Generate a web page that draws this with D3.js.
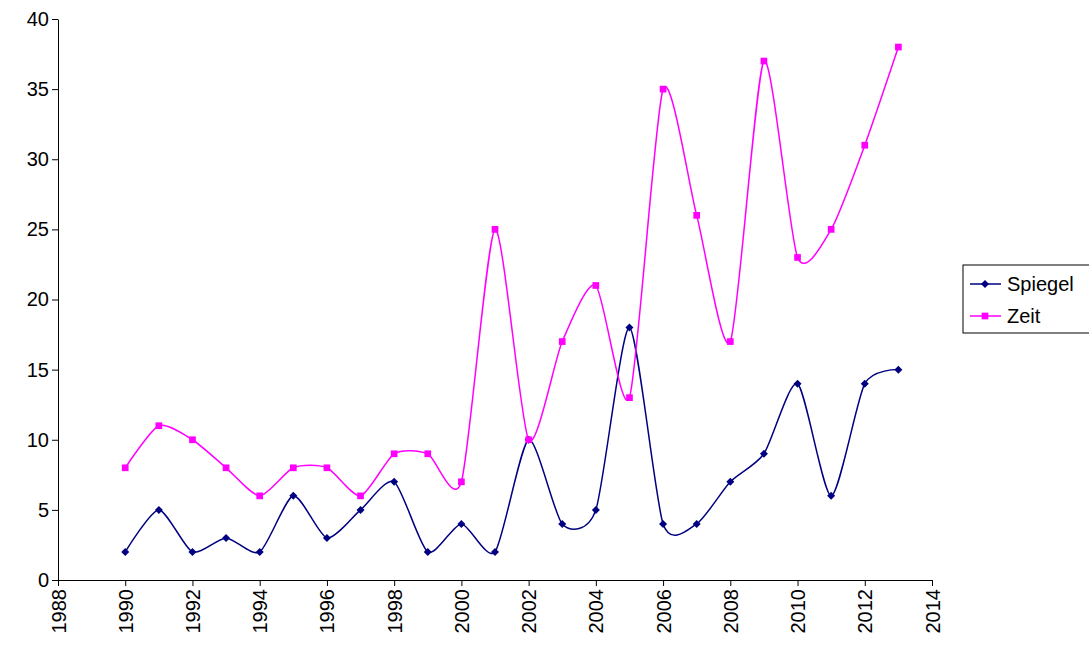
<!DOCTYPE html>
<html><head><meta charset="utf-8">
<script src="https://cdn.jsdelivr.net/npm/d3@7"></script>
<style>body{margin:0;background:#fff}text{font-family:"Liberation Sans",Arial,sans-serif}</style>
</head><body>
<script>
var years = d3.range(1990, 2014);
var spiegel = [2,5,2,3,2,6,3,5,7,2,4,2,10,4,5,18,4,4,7,9,14,6,14,15];
var zeit = [8,11,10,8,6,8,8,6,9,9,7,25,10,17,21,13,35,26,17,37,23,25,31,38];
var xTicks = d3.range(1988, 2015, 2);
var yTicks = d3.range(0, 41, 5);

var width = 1089, height = 651;
var svg = d3.select("body").append("svg").attr("width", width).attr("height", height);

var x = d3.scaleLinear().domain([1988, 2014]).range([58, 932]);
var y = d3.scaleLinear().domain([0, 40]).range([580, 19]);

var yAxis = svg.append("g").attr("transform", "translate(58,0)")
	.call(d3.axisLeft(y).tickValues(yTicks).tickSize(6).tickSizeOuter(0));
yAxis.selectAll("text").attr("font-size", 20).attr("fill", "#000");

var xAxis = svg.append("g").attr("transform", "translate(0,580)")
	.call(d3.axisBottom(x).tickValues(xTicks).tickFormat(d3.format("d")).tickSize(6).tickSizeOuter(0));
xAxis.selectAll("text").attr("font-size", 20).attr("fill", "#000")
	.attr("transform", "rotate(-90)").attr("text-anchor", "end")
	.attr("x", -9).attr("y", 0).attr("dy", "0.35em");
svg.selectAll(".domain, .tick line").attr("stroke", "#000");

// diamond = square rotated 45deg
var series = [
	{name: "Spiegel", values: spiegel, color: "#000080", sym: d3.symbolSquare, size: 32, rot: 45},
	{name: "Zeit", values: zeit, color: "#FF00FF", sym: d3.symbolSquare, size: 45, rot: 0}
];

var line = d3.line().x(function(d, i) { return x(years[i]); }).y(function(d) { return y(d); })
	.curve(d3.curveCardinal.tension(0.3));

series.forEach(function(s) {
	svg.append("path").attr("d", line(s.values)).attr("fill", "none")
		.attr("stroke", s.color).attr("stroke-width", 1.5);
	svg.selectAll(null).data(s.values).enter().append("path")
		.attr("d", d3.symbol().type(s.sym).size(s.size))
		.attr("transform", function(d, i) { return "translate(" + x(years[i]) + "," + y(d) + ") rotate(" + s.rot + ")"; })
		.attr("fill", s.color);
});

var legend = svg.append("g").attr("transform", "translate(963,265)");
legend.append("rect").attr("width", 130).attr("height", 68).attr("fill", "#fff").attr("stroke", "#000");
series.forEach(function(s, i) {
	var g = legend.append("g").attr("transform", "translate(0," + (19 + i * 32) + ")");
	g.append("line").attr("x1", 7).attr("x2", 38).attr("stroke", s.color).attr("stroke-width", 1.5);
	g.append("path").attr("d", d3.symbol().type(s.sym).size(s.size)).attr("transform", "translate(22,0) rotate(" + s.rot + ")").attr("fill", s.color);
	g.append("text").attr("x", 44).attr("dy", "0.35em").attr("font-size", 20).text(s.name);
});
</script>
</body></html>
